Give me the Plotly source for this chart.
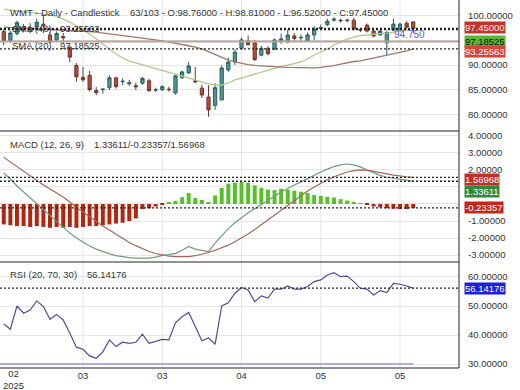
import plotly.graph_objects as go
from plotly.subplots import make_subplots

# ---------------- data ----------------
OPEN = [96.8, 95.0, 96.4, 97.8, 96.8, 97.7, 98.3, 96.1, 95.1, 95.8,
        93.6, 89.9, 87.5, 87.9, 84.8, 85.0, 85.4, 87.4, 86.6, 86.2,
        85.8, 86.3, 86.8, 84.9, 85.0, 85.1, 84.3, 87.4, 88.4, 86.8,
        85.3, 83.5, 81.8, 82.9, 89.0, 90.6, 93.4, 94.9, 94.5, 92.0,
        93.4, 93.2, 95.0, 94.7, 95.9, 95.5, 94.9, 96.1, 97.4, 98.2,
        99.1, 99.1, 99.0, 99.1, 97.2, 98.1, 96.9, 96.1, 94.5, 97.1,
        97.1, 98.5, 98.76]
HIGH = [97.3, 97.0, 99.0, 98.3, 98.5, 99.4, 100.2, 96.6, 96.8, 96.5,
        94.0, 90.4, 89.6, 88.8, 85.6, 85.2, 87.9, 87.6, 87.3, 87.0,
        86.4, 87.6, 87.2, 85.4, 85.9, 85.6, 88.0, 88.9, 90.6, 89.6,
        86.0, 85.9, 86.3, 89.9, 91.5, 93.2, 95.6, 96.0, 95.1, 93.9,
        93.8, 95.4, 96.4, 97.2, 96.5, 96.2, 96.6, 97.9, 98.2, 99.4,
        99.7, 99.4, 99.4, 99.6, 97.4, 98.4, 97.2, 97.2, 97.0, 99.4,
        98.6, 98.9, 98.81]
LOW = [94.0, 94.5, 96.0, 96.6, 96.4, 97.4, 96.5, 94.4, 94.9, 94.4,
       90.6, 86.6, 86.6, 84.6, 83.9, 84.2, 84.9, 85.2, 85.9, 85.7,
       84.9, 86.0, 84.5, 84.5, 84.7, 84.6, 84.0, 87.2, 88.2, 86.3,
       83.3, 79.5, 80.9, 82.9, 88.6, 90.0, 93.1, 94.0, 90.8, 91.8,
       92.0, 93.0, 94.3, 94.4, 95.0, 94.8, 94.7, 95.0, 97.1, 97.9,
       98.8, 98.6, 98.7, 97.0, 96.7, 96.6, 95.6, 95.9, 92.0, 96.9,
       96.9, 97.3, 96.52]
CLOSE = [94.8, 96.5, 98.6, 97.2, 97.6, 98.7, 98.0, 94.7, 96.4, 95.5,
         91.6, 87.6, 87.0, 85.0, 84.4, 85.1, 87.4, 85.6, 86.7, 86.4,
         85.6, 87.3, 84.8, 85.0, 85.6, 85.0, 87.8, 88.6, 89.8, 86.6,
         83.9, 80.9, 85.4, 89.4, 90.6, 92.6, 95.1, 94.1, 91.1, 93.4,
         92.3, 95.1, 95.3, 96.1, 95.4, 95.6, 96.1, 97.3, 97.6, 98.9,
         99.3, 99.0, 99.1, 97.3, 97.1, 96.9, 95.9, 96.9, 96.6, 98.3,
         98.3, 97.7, 97.45]
SMA20 = [101.36, 101.16, 100.95, 100.75, 100.65, 100.55, 100.34, 100.14, 99.94, 99.33,
         98.72, 97.91, 97.10, 96.29, 95.27, 94.26, 93.25, 92.23, 91.42, 90.81,
         90.41, 90.00, 89.59, 89.19, 88.78, 88.48, 88.17, 87.77, 87.36, 86.96,
         86.55, 86.15, 85.94, 85.94, 86.35, 86.96, 87.36, 87.77, 88.17, 88.58,
         88.99, 89.39, 89.70, 90.00, 90.30, 90.61, 91.22, 92.03, 92.64, 93.25,
         94.06, 94.67, 95.27, 95.68, 95.98, 96.09, 96.19, 96.29, 96.49, 96.69,
         96.90, 97.00, 97.18525]
SMA48 = [97.71, 97.65, 97.59, 97.51, 97.46, 97.40, 97.36, 97.30, 97.22, 97.14,
         97.06, 96.98, 96.90, 96.80, 96.69, 96.53, 96.35, 96.19, 96.00, 95.82,
         95.64, 95.48, 95.29, 95.11, 94.91, 94.69, 94.46, 94.18, 93.91, 93.65,
         93.29, 92.70, 92.09, 91.52, 91.01, 90.65, 90.30, 90.06, 89.94, 89.82,
         89.72, 89.63, 89.59, 89.53, 89.47, 89.43, 89.39, 89.43, 89.51, 89.63,
         89.88, 90.16, 90.47, 90.71, 90.85, 91.12, 91.38, 91.66, 91.93, 92.23,
         92.56, 92.88, 93.25563]
MACD = [1.82, 1.47, 1.06, 0.71, 0.35, 0.0, -0.35, -0.71, -1.06, -1.41,
        -1.71, -2.0, -2.24, -2.47, -2.65, -2.8, -2.93, -3.03, -3.1, -3.15,
        -3.18, -3.2, -3.18, -3.12, -3.02, -2.98, -2.9, -2.72, -2.5, -2.65,
        -2.72, -2.8, -2.3, -1.85, -1.45, -1.1, -0.8, -0.52, -0.28, -0.05,
        0.2, 0.45, 0.7, 0.92, 1.12, 1.3, 1.5, 1.7, 1.88, 2.05,
        2.2, 2.3, 2.35, 2.3, 2.18, 2.0, 1.83, 1.68, 1.57, 1.5,
        1.45, 1.4, 1.33611]
SIGNAL = [2.74, 2.47, 2.18, 1.91, 1.65, 1.35, 1.12, 0.88, 0.65, 0.41,
          0.12, -0.21, -0.47, -0.75, -1.02, -1.29, -1.53, -1.78, -2.02, -2.26,
          -2.45, -2.62, -2.79, -2.91, -3.01, -3.07, -3.09, -3.11, -3.09, -3.04,
          -2.96, -2.85, -2.72, -2.58, -2.42, -2.22, -2.0, -1.76, -1.5, -1.22,
          -0.93, -0.63, -0.33, -0.05, 0.22, 0.5, 0.76, 1.0, 1.22, 1.42,
          1.6, 1.76, 1.88, 1.96, 2.0, 1.99, 1.93, 1.85, 1.77, 1.7,
          1.64, 1.6, 1.56968]
HIST = [-1.2, -1.25, -1.3, -1.3, -1.35, -1.3, -1.35, -1.4, -1.35, -1.4,
        -1.35, -1.4, -1.35, -1.3, -1.3, -1.25, -1.2, -1.15, -1.1, -1.0,
        -0.85, -0.3, -0.25, -0.15, -0.05, 0.08, 0.18, 0.4, 0.65, 0.35,
        0.24, 0.06, 0.5, 0.95, 1.2, 1.25, 1.3, 1.25, 1.1, 0.95,
        0.85, 0.82, 0.9, 0.85, 0.78, 0.72, 0.65, 0.53, 0.48, 0.42,
        0.38, 0.28, 0.2, 0.1, 0.04, -0.05, -0.15, -0.2, -0.25, -0.28,
        -0.3, -0.3, -0.23357]
RSI = [43.8, 42.0, 50.0, 47.5, 48.6, 51.8, 49.8, 45.4, 47.1, 45.2,
       40.6, 35.8, 35.1, 32.8, 32.0, 34.2, 38.3, 36.0, 37.5, 37.1,
       37.5, 40.3, 37.1, 37.7, 38.5, 38.3, 44.2, 46.3, 47.8, 42.9,
       38.0, 39.0, 36.8, 50.0, 51.1, 54.4, 56.4, 55.5, 51.5, 53.5,
       52.7, 55.8, 55.8, 56.9, 55.8, 55.8, 56.7, 58.4, 59.0, 60.7,
       61.5, 60.1, 60.3, 58.4, 56.1, 55.8, 53.8, 55.3, 54.6, 57.8,
       57.5, 56.9, 56.14176]
X = list(range(len(CLOSE)))

TICK_POS = [12, 24, 36, 48, 60]
TICK_TEXT = ["03", "03", "04", "05", "05"]
FIRST_TICK_POS = 1.4
FIRST_TICK_TEXT = ["02", "2025"]

PRICE_TICKS = [80, 85, 90, 95, 100]
MACD_TICKS = [-3, -2, -1, 0, 1, 2, 3, 4]
RSI_TICKS = [30, 40, 50, 60]
# tick labels hidden behind the value boxes in the reference
HIDDEN_TICKS = {"y": {95}, "y2": {0, 1}, "y3": set()}

TITLE = "WMT - Daily - Candlestick"
INFO = "63/103 - O:98.76000 - H:98.81000 - L:96.52000 - C:97.45000"
LEVEL = 94.75
LEVEL_TEXT = "94.750"
RSI_LOW = 30

# ---------------- layout geometry ----------------
W, H = 520, 390
ML, MR, MT, MB = 0, 61, 0, 22
PW, PH = W - ML - MR, H - MT - MB
FONT = "Liberation Sans, Arial, sans-serif"
FS = 9.5
TXT = "#333333"
GRID = "#e6e6e6"


def py(p):
    return 1 - p / PH


def px(p):
    return p / PW


XR = [-0.57, 68.93]

fig = make_subplots(rows=3, cols=1, vertical_spacing=0)

fig.add_trace(go.Candlestick(
    x=X, open=OPEN, high=HIGH, low=LOW, close=CLOSE,
    increasing=dict(line=dict(color="#2f5c5c", width=1), fillcolor="#4f9696"),
    decreasing=dict(line=dict(color="#6e3a2e", width=1), fillcolor="#b8483a"),
    whiskerwidth=0, showlegend=False, hoverinfo="skip"), row=1, col=1)
fig.add_trace(go.Scatter(x=X, y=SMA20, mode="lines",
                         line=dict(color="#aacb8c", width=1.3), showlegend=False), row=1, col=1)
fig.add_trace(go.Scatter(x=X, y=SMA48, mode="lines",
                         line=dict(color="#a3766a", width=1.3), showlegend=False), row=1, col=1)

fig.add_trace(go.Bar(x=X, y=HIST,
                     marker=dict(color=["#56c026" if v >= 0 else "#b3250f" for v in HIST],
                                 line=dict(width=0)),
                     showlegend=False), row=2, col=1)
fig.add_trace(go.Scatter(x=X, y=MACD, mode="lines",
                         line=dict(color="#6f9c80", width=1.2), showlegend=False), row=2, col=1)
fig.add_trace(go.Scatter(x=X, y=SIGNAL, mode="lines",
                         line=dict(color="#a4665a", width=1.2), showlegend=False), row=2, col=1)

fig.add_trace(go.Scatter(x=X, y=RSI, mode="lines",
                         line=dict(color="#4d4d9c", width=1.2), showlegend=False), row=3, col=1)

xcommon = dict(range=XR, showgrid=False, zeroline=False, showticklabels=False,
               ticks="", showline=False, fixedrange=True)
fig.update_layout(
    xaxis=dict(**xcommon, rangeslider=dict(visible=False)),
    xaxis2=dict(**xcommon),
    xaxis3=dict(**{**xcommon, "showticklabels": True}, tickmode="array",
                tickvals=TICK_POS, ticktext=TICK_TEXT,
                tickfont=dict(family=FONT, size=FS, color=TXT)),
)


def yticks(vals, axis):
    return dict(tickmode="array", tickvals=vals,
                ticktext=["" if v in HIDDEN_TICKS[axis] else f"{v:.5f}" for v in vals])


ycommon = dict(side="right", showgrid=True, gridcolor=GRID, gridwidth=1, zeroline=False,
               tickfont=dict(family=FONT, size=FS, color=TXT),
               ticks="", showline=False, ticklabelstandoff=8, fixedrange=True)
fig.update_layout(
    yaxis=dict(**ycommon, domain=[py(131), 1], range=[76.6, 103.2], **yticks(PRICE_TICKS, "y")),
    yaxis2=dict(**ycommon, domain=[py(262), py(131)], range=[-3.41, 4.29], **yticks(MACD_TICKS, "y2")),
    yaxis3=dict(**ycommon, domain=[0, py(262)], range=[28.62, 65.17], **yticks(RSI_TICKS, "y3")),
)

shapes = []
# vertical grid
for t in TICK_POS:
    shapes.append(dict(type="line", xref="x", yref="paper", x0=t, x1=t, y0=0, y1=1,
                       line=dict(color=GRID, width=1), layer="below"))
# level line
shapes.append(dict(type="line", xref="paper", yref="y", x0=0, x1=1, y0=LEVEL, y1=LEVEL,
                   line=dict(color="#b9a49b", width=2)))
# RSI oversold level
shapes.append(dict(type="line", xref="x3", yref="y3", x0=XR[0], x1=X[-1], y0=RSI_LOW, y1=RSI_LOW,
                   line=dict(color="#b4a6e6", width=2)))
# dotted last-value lines
for yref, v in [("y", CLOSE[-1]), ("y", SMA20[-1]), ("y", SMA48[-1]),
                ("y2", SIGNAL[-1]), ("y2", MACD[-1]), ("y2", HIST[-1]), ("y3", RSI[-1])]:
    shapes.append(dict(type="line", xref="paper", yref=yref, x0=0, x1=1, y0=v, y1=v,
                       line=dict(color="#222222", width=1.3, dash="2px,2px")))
# panel borders
shapes.append(dict(type="line", xref="paper", yref="paper", x0=1, x1=1, y0=0, y1=1,
                   line=dict(color="#222222", width=1)))
for yy in [0, py(131), py(262)]:
    shapes.append(dict(type="line", xref="paper", yref="paper", x0=0, x1=1, y0=yy, y1=yy,
                       line=dict(color="#222222", width=1)))

ann = []


def text_at(x, y, s, color=TXT, size=FS):
    ann.append(dict(xref="paper", yref="paper", x=px(x), y=py(y), xanchor="left",
                    yanchor="middle", text=s, showarrow=False,
                    font=dict(family=FONT, size=size, color=color)))


text_at(8, 12, TITLE)
text_at(128, 12, INFO)
text_at(10, 29, "SMA (48)")
text_at(58, 29, f"{SMA48[-1]:.5f}")
text_at(10, 45, "SMA (20)")
text_at(58, 45, f"{SMA20[-1]:.5f}")
text_at(8, 144, "MACD (12, 26, 9)")
text_at(92, 144, f"{MACD[-1]:.5f}/{HIST[-1]:.5f}/{SIGNAL[-1]:.5f}")
text_at(8, 274, "RSI (20, 70, 30)")
text_at(85, 274, f"{RSI[-1]:.5f}")

ann.append(dict(xref="x", yref="y", x=61.4, y=LEVEL, yshift=7, text=LEVEL_TEXT,
                showarrow=False, font=dict(family=FONT, size=10, color="#5d5dd4")))

# x tick "02 / 2025" (two lines in one label)
ann.append(dict(xref="x3", yref="paper", x=FIRST_TICK_POS, y=0, yanchor="top", yshift=1,
                text="<br>".join(FIRST_TICK_TEXT), showarrow=False, borderpad=0,
                font=dict(family=FONT, size=FS, color=TXT)))


def rlabel(yref, v, bg, fc, yshift=0):
    ann.append(dict(xref="paper", x=1, xanchor="left", xshift=5, yref=yref, y=v,
                    yanchor="middle", yshift=yshift, text=f"{v:.5f}", bgcolor=bg,
                    borderpad=0, showarrow=False,
                    font=dict(family=FONT, size=FS, color=fc)))


rlabel("y", CLOSE[-1], "#c0342e", "#ffe6e6", 1)
rlabel("y", SMA20[-1], "#5cb533", "#111111", -12)
rlabel("y", SMA48[-1], "#d8443a", "#ffffff", -3)
rlabel("y2", SIGNAL[-1], "#c0302a", "#ffffff", -2)
rlabel("y2", MACD[-1], "#2f8a3c", "#ffffff", -10)
rlabel("y2", HIST[-1], "#c0281c", "#ffffff", 0)
rlabel("y3", RSI[-1], "#1e1ee0", "#ffffff", 0)

fig.update_layout(
    width=W, height=H, margin=dict(l=ML, r=MR, t=MT, b=MB),
    paper_bgcolor="white", plot_bgcolor="white",
    bargap=0.4, showlegend=False, shapes=shapes, annotations=ann,
    font=dict(family=FONT, size=FS, color=TXT),
)

fig.write_html("out.html", config={"displayModeBar": False})
